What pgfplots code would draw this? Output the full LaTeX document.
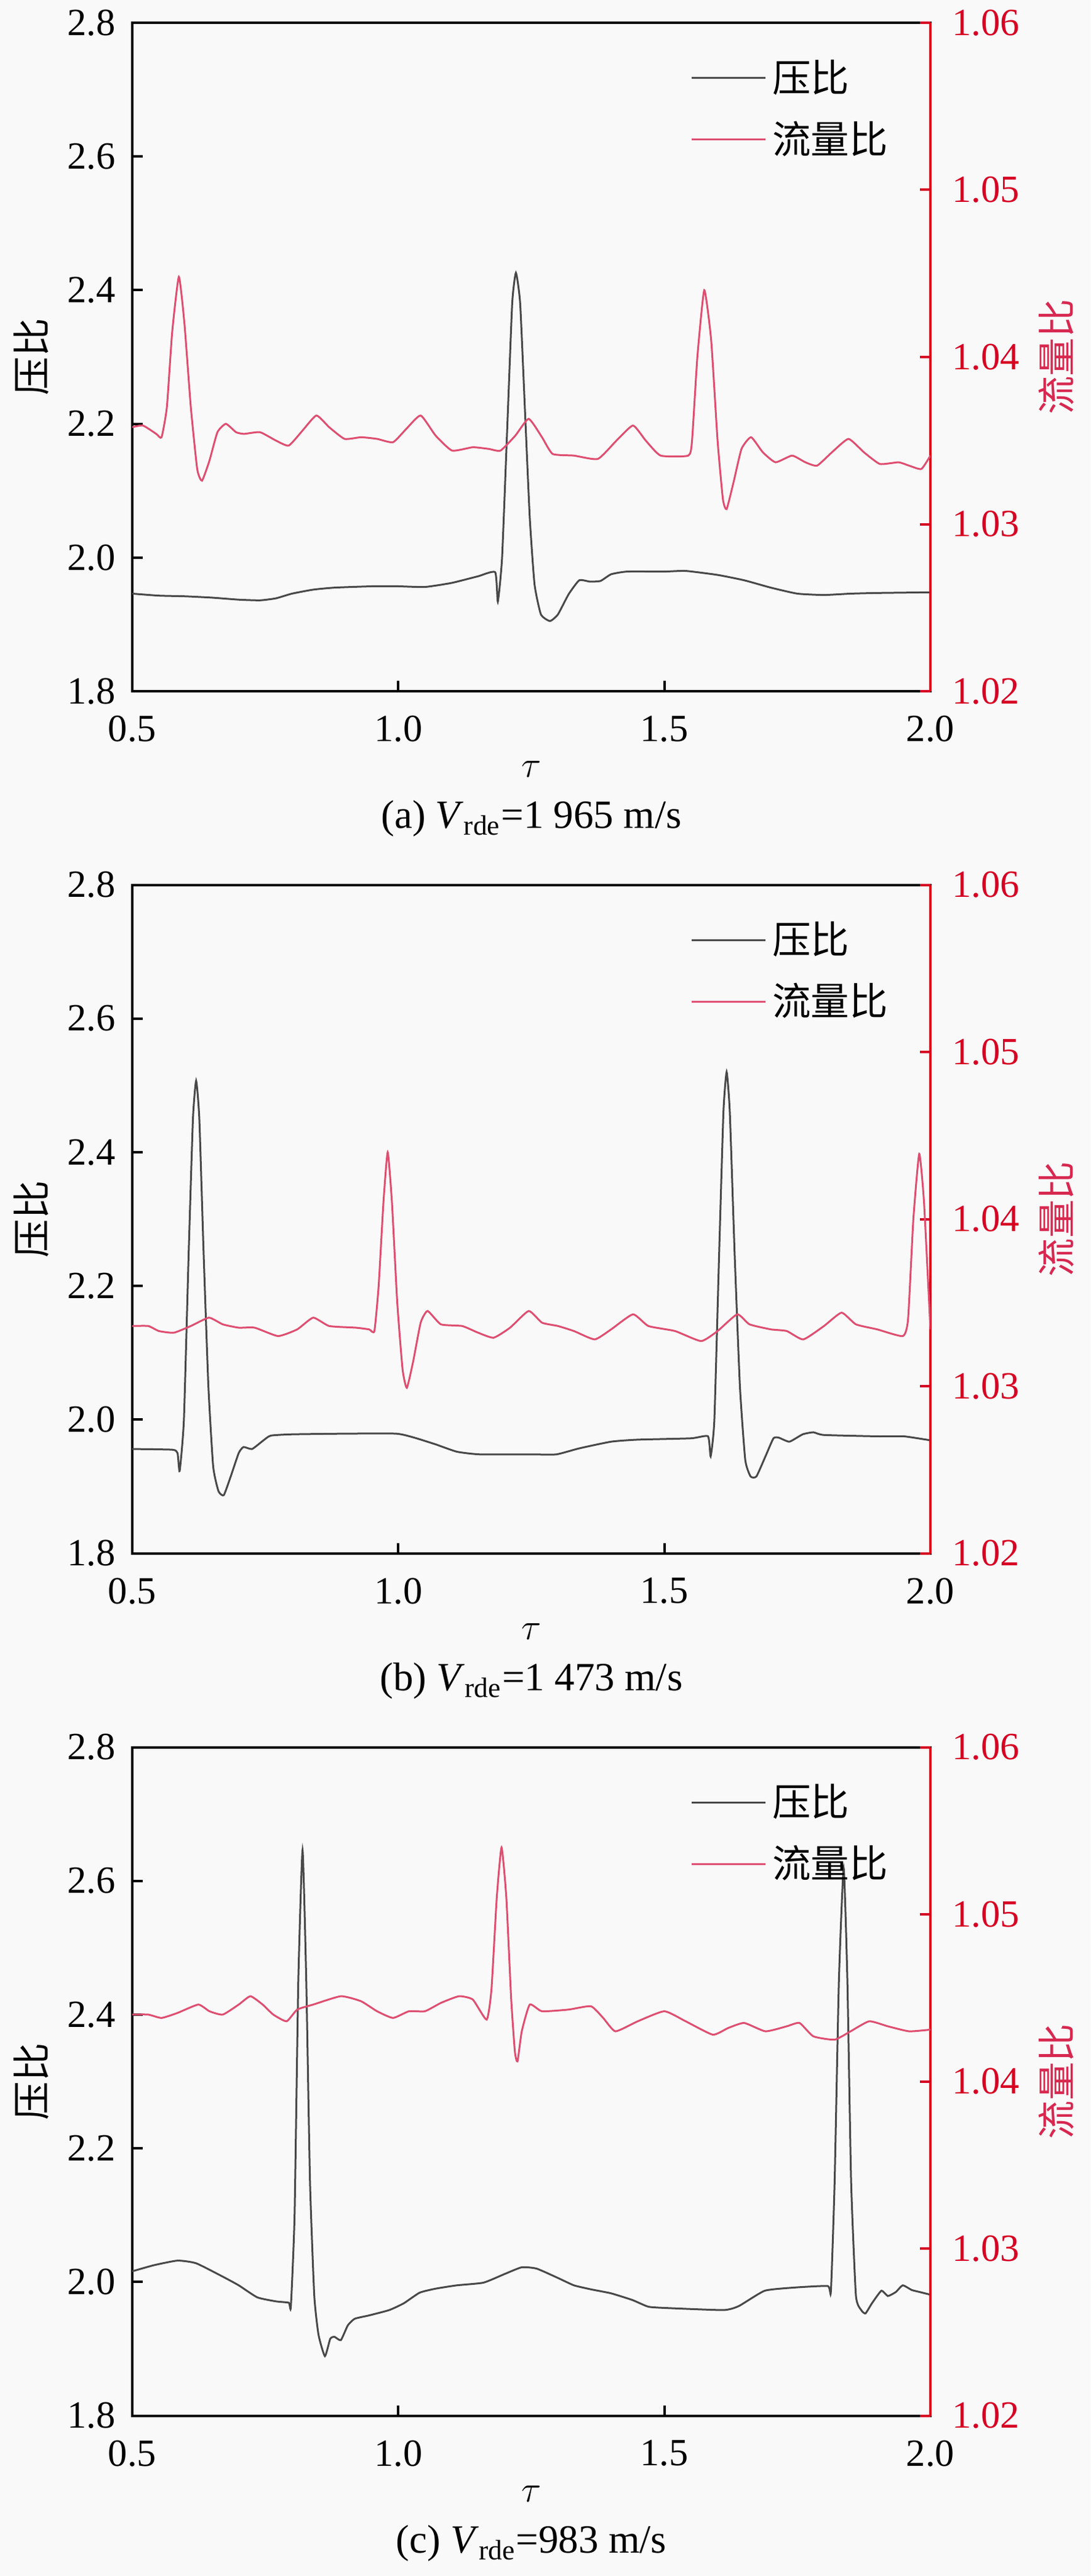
\documentclass[border=0pt]{standalone}
\usepackage{fontspec}
\setmainfont{Liberation Serif}
\newfontfamily\cjk{Noto Sans CJK SC}
\usepackage{pgfplots}
\pgfplotsset{compat=1.18}
\definecolor{grayc}{RGB}{72,72,72}
\definecolor{pinkc}{RGB}{222,78,112}
\definecolor{axred}{RGB}{215,0,35}
\definecolor{labred}{RGB}{215,40,80}
\definecolor{bgc}{RGB}{249,249,249}
\pgfplotsset{
  common/.style={
    scale only axis, width=259.4pt, height=217.2pt,
    xmin=0.5, xmax=2.0,
    /pgf/number format/assume math mode=true,
    tick label style={font=\fontsize{12.5}{14}\selectfont},
    tick align=inside, major tick length=3.4pt,
  },
  leftax/.style={
    common,
    ymin=1.8, ymax=2.8,
    xtick={0.5,1.0,1.5,2.0}, ytick={1.8,2.0,2.2,2.4,2.6,2.8},
    xticklabel style={/pgf/number format/fixed, /pgf/number format/fixed zerofill, /pgf/number format/precision=1, yshift=-4.5pt},
    yticklabel style={/pgf/number format/fixed, /pgf/number format/fixed zerofill, /pgf/number format/precision=1, xshift=-2pt},
    tick pos=left,
    axis line style={line width=0.8pt, black},
    every tick/.style={black, line width=0.8pt},
    xlabel={$\tau$}, ylabel={\cjk 压比},
    every axis x label/.style={at={(axis description cs:0.5,-0.117)}, anchor=center, font=\fontsize{13}{15}\selectfont},
    every axis y label/.style={at={(axis description cs:-0.1265,0.5)}, rotate=90, anchor=center, font=\fontsize{12.5}{14}\selectfont},
  },
  rightax/.style={
    common,
    ymin=1.02, ymax=1.06,
    axis x line=none, axis y line*=right,
    ytick={1.02,1.03,1.04,1.05,1.06},
    yticklabel style={/pgf/number format/fixed, /pgf/number format/fixed zerofill, /pgf/number format/precision=2, text=axred, xshift=3.5pt},
    y axis line style={line width=0.8pt, axred},
    every tick/.style={axred, line width=0.8pt},
    ylabel={\cjk 流量比},
    every axis y label/.style={at={(axis description cs:1.158,0.5)}, rotate=90, anchor=center, text=labred, font=\fontsize{12.5}{14}\selectfont},
    legend style={at={(axis description cs:0.955,0.955)}, anchor=north east, draw=none, fill=none,
      font=\cjk\fontsize{12.5}{14}\selectfont, row sep=4pt, inner sep=0pt},
    legend cell align=left,
    legend image code/.code={\draw[#1] (0pt,0pt) -- (24pt,0pt);},
  },
  gline/.style={grayc, line width=0.6pt},
  rline/.style={pinkc, line width=0.6pt},
}
\begin{document}
\begin{tikzpicture}
\path[use as bounding box, fill=bgc] (-43pt,7.4pt) rectangle (311.4pt,-829.6pt);
% ---------------- panel (a)
\begin{axis}[leftax, at={(0pt,0pt)}, anchor=north west]
\addplot[gline, smooth, tension=0.3] coordinates {
(0.50,1.946)(0.55,1.943)(0.60,1.942)(0.65,1.940)(0.70,1.937)(0.74,1.936)(0.77,1.939)(0.80,1.946)
(0.84,1.952)(0.88,1.955)(0.95,1.957)(1.00,1.957)(1.05,1.956)(1.10,1.962)(1.15,1.972)(1.182,1.978)
(1.187,1.934)(1.195,2.000)(1.205,2.20)(1.214,2.38)(1.221,2.426)(1.229,2.38)(1.238,2.22)(1.247,2.06)
(1.256,1.96)(1.268,1.915)(1.285,1.905)(1.30,1.915)(1.32,1.945)(1.34,1.966)(1.36,1.964)(1.38,1.965)
(1.40,1.975)(1.43,1.979)(1.50,1.979)(1.54,1.980)(1.60,1.974)(1.65,1.966)(1.70,1.955)(1.75,1.946)
(1.80,1.944)(1.85,1.946)(1.90,1.947)(2.00,1.948)};
\end{axis}
\begin{axis}[rightax, at={(0pt,0pt)}, anchor=north west]
\addlegendimage{gline}
\addlegendentry{压比}
\addplot[rline, smooth, tension=0.3] coordinates {
(0.50,1.0358)(0.52,1.0359)(0.545,1.0354)(0.555,1.0352)(0.565,1.0370)(0.575,1.0415)(0.5875,1.0448)
(0.598,1.0420)(0.610,1.0370)(0.622,1.0333)(0.631,1.0326)(0.645,1.0338)(0.660,1.0355)(0.676,1.0360)
(0.695,1.0355)(0.71,1.0354)(0.74,1.0355)(0.77,1.0350)(0.794,1.0347)(0.82,1.0356)(0.846,1.0365)
(0.87,1.0358)(0.899,1.0351)(0.93,1.0352)(0.96,1.0351)(0.99,1.0349)(1.015,1.0357)(1.042,1.0365)
(1.07,1.0353)(1.101,1.0344)(1.14,1.0346)(1.17,1.0345)(1.192,1.0344)(1.22,1.0353)(1.245,1.0363)
(1.27,1.0352)(1.29,1.0342)(1.33,1.0341)(1.375,1.0339)(1.41,1.0350)(1.441,1.0359)(1.465,1.0350)
(1.493,1.0341)(1.545,1.0341)(1.552,1.0350)(1.562,1.0400)(1.575,1.0440)(1.588,1.0410)(1.600,1.0350)
(1.610,1.0315)(1.617,1.0309)(1.630,1.0325)(1.645,1.0345)(1.663,1.0352)(1.685,1.0343)(1.709,1.0337)
(1.74,1.0341)(1.765,1.0337)(1.787,1.0335)(1.815,1.0343)(1.846,1.0351)(1.875,1.0343)(1.905,1.0336)
(1.94,1.0337)(1.96,1.0335)(1.983,1.0333)(2.00,1.0341)};
\addlegendentry{流量比}
\end{axis}
\node[font=\fontsize{13}{15}\selectfont] at (129.7pt,-258.6pt) {(a) \textit{V}\textsubscript{rde}=1 965 m/s};
% ---------------- panel (b)
\begin{axis}[leftax, at={(0pt,-280.1pt)}, anchor=north west]
\addplot[gline, smooth, tension=0.3] coordinates {
(0.50,1.956)(0.575,1.955)(0.585,1.950)(0.589,1.923)(0.597,2.00)(0.606,2.25)(0.614,2.45)(0.620,2.507)
(0.626,2.45)(0.634,2.25)(0.643,2.05)(0.652,1.93)(0.662,1.893)(0.672,1.887)(0.685,1.915)(0.70,1.950)
(0.709,1.959)(0.725,1.956)(0.745,1.968)(0.76,1.976)(0.80,1.978)(0.90,1.979)(0.996,1.979)(1.03,1.973)
(1.07,1.963)(1.11,1.952)(1.153,1.948)(1.25,1.948)(1.297,1.948)(1.34,1.957)(1.40,1.967)(1.45,1.970)
(1.55,1.972)(1.582,1.975)(1.587,1.945)(1.594,2.00)(1.603,2.25)(1.611,2.46)(1.617,2.520)(1.623,2.46)
(1.632,2.25)(1.642,2.05)(1.652,1.94)(1.662,1.915)(1.673,1.915)(1.69,1.945)(1.705,1.972)(1.715,1.973)
(1.735,1.967)(1.76,1.978)(1.78,1.981)(1.80,1.977)(1.90,1.975)(1.95,1.975)(2.00,1.969)};
\end{axis}
\begin{axis}[rightax, at={(0pt,-280.1pt)}, anchor=north west]
\addlegendimage{gline}
\addlegendentry{压比}
\addplot[rline, smooth, tension=0.3] coordinates {
(0.50,1.0336)(0.53,1.0336)(0.55,1.0333)(0.578,1.0332)(0.61,1.0336)(0.644,1.0341)(0.67,1.0337)
(0.70,1.0335)(0.73,1.0335)(0.774,1.0330)(0.81,1.0334)(0.84,1.0341)(0.87,1.0336)(0.92,1.0335)
(0.945,1.0334)(0.955,1.0333)(0.963,1.0360)(0.972,1.0410)(0.980,1.0440)(0.988,1.0410)(0.998,1.0350)
(1.008,1.0310)(1.016,1.0299)(1.028,1.0315)(1.042,1.0338)(1.055,1.0345)(1.08,1.0337)(1.12,1.0336)
(1.15,1.0332)(1.179,1.0329)(1.21,1.0335)(1.245,1.0345)(1.27,1.0338)(1.30,1.0336)(1.33,1.0333)
(1.369,1.0328)(1.40,1.0334)(1.441,1.0343)(1.47,1.0336)(1.52,1.0333)(1.569,1.0327)(1.60,1.0333)
(1.637,1.0343)(1.66,1.0337)(1.70,1.0334)(1.73,1.0333)(1.761,1.0328)(1.80,1.0336)(1.833,1.0344)
(1.86,1.0337)(1.90,1.0334)(1.948,1.0330)(1.958,1.0340)(1.968,1.0400)(1.979,1.0439)(1.988,1.0410)
(2.00,1.0334)};
\addlegendentry{流量比}
\end{axis}
\node[font=\fontsize{13}{15}\selectfont] at (129.7pt,-538.7pt) {(b) \textit{V}\textsubscript{rde}=1 473 m/s};
% ---------------- panel (c)
\begin{axis}[leftax, at={(0pt,-560.3pt)}, anchor=north west]
\addplot[gline, smooth, tension=0.3] coordinates {
(0.50,2.016)(0.54,2.025)(0.585,2.032)(0.62,2.028)(0.67,2.008)(0.70,1.995)(0.735,1.977)(0.77,1.971)
(0.794,1.969)(0.798,1.963)(0.805,2.10)(0.812,2.45)(0.820,2.646)(0.827,2.45)(0.834,2.15)(0.842,1.98)
(0.850,1.921)(0.862,1.889)(0.872,1.915)(0.880,1.918)(0.892,1.913)(0.905,1.935)(0.918,1.945)(0.945,1.950)
(0.983,1.958)(1.01,1.968)(1.04,1.984)(1.07,1.990)(1.11,1.995)(1.16,1.999)(1.20,2.012)(1.232,2.022)
(1.26,2.020)(1.30,2.006)(1.33,1.995)(1.362,1.989)(1.40,1.983)(1.44,1.973)(1.47,1.963)(1.506,1.961)
(1.611,1.958)(1.64,1.964)(1.689,1.987)(1.75,1.992)(1.807,1.994)(1.813,1.986)(1.820,2.15)(1.828,2.45)
(1.837,2.619)(1.844,2.45)(1.851,2.15)(1.860,1.98)(1.870,1.958)(1.878,1.953)(1.89,1.968)(1.908,1.987)
(1.92,1.979)(1.935,1.985)(1.948,1.995)(1.965,1.988)(1.98,1.985)(2.00,1.981)};
\end{axis}
\begin{axis}[rightax, at={(0pt,-560.3pt)}, anchor=north west]
\addlegendimage{gline}
\addlegendentry{压比}
\addplot[rline, smooth, tension=0.3] coordinates {
(0.50,1.0440)(0.53,1.0440)(0.555,1.0438)(0.585,1.0441)(0.624,1.0446)(0.645,1.0442)(0.67,1.0440)
(0.70,1.0446)(0.722,1.0451)(0.745,1.0446)(0.765,1.0440)(0.79,1.0436)(0.81,1.0443)(0.84,1.0446)
(0.892,1.0451)(0.93,1.0448)(0.96,1.0442)(0.99,1.0438)(1.02,1.0442)(1.05,1.0442)(1.08,1.0447)
(1.114,1.0451)(1.14,1.0449)(1.166,1.0437)(1.175,1.0455)(1.185,1.0510)(1.194,1.0540)(1.203,1.0510)
(1.212,1.0450)(1.219,1.0418)(1.224,1.0412)(1.232,1.0430)(1.247,1.0446)(1.27,1.0442)(1.32,1.0443)
(1.362,1.0445)(1.385,1.0438)(1.408,1.0430)(1.45,1.0436)(1.50,1.0442)(1.54,1.0436)(1.591,1.0428)
(1.62,1.0432)(1.65,1.0435)(1.69,1.0430)(1.73,1.0433)(1.754,1.0435)(1.78,1.0427)(1.82,1.0425)
(1.85,1.0430)(1.885,1.0436)(1.92,1.0433)(1.96,1.0430)(2.00,1.0431)};
\addlegendentry{流量比}
\end{axis}
\node[font=\fontsize{13}{15}\selectfont] at (129.7pt,-818.9pt) {(c) \textit{V}\textsubscript{rde}=983 m/s};
\end{tikzpicture}
\end{document}
